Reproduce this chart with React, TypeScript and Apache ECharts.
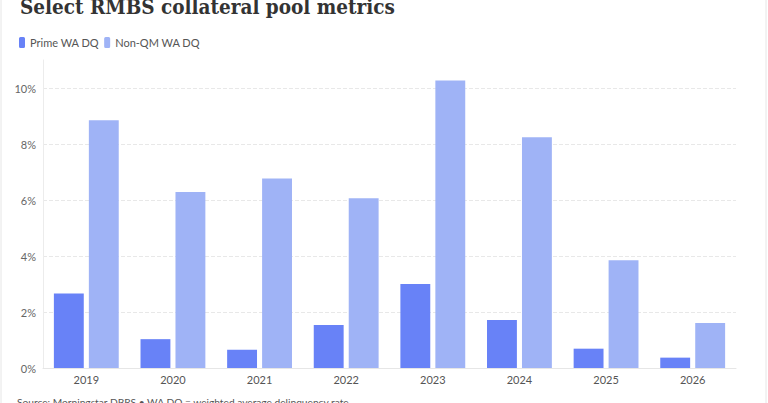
import React, { useEffect, useRef } from "react";
import * as echarts from "echarts";

const years = ["2019", "2020", "2021", "2022", "2023", "2024", "2025", "2026"];
const primeWaDq = [2.66, 1.03, 0.65, 1.54, 3.0, 1.71, 0.69, 0.37];
const nonQmWaDq = [8.85, 6.29, 6.77, 6.06, 10.27, 8.24, 3.85, 1.61];

const PRIME_COLOR = "#6882f7";
const NONQM_COLOR = "#9fb3f6";
const FONT = "Lato, 'Open Sans', sans-serif";

const App = () => {
    const chartRef = useRef(null);

    useEffect(() => {
        if (!chartRef.current) return;
        const chart = echarts.init(chartRef.current, null, { renderer: "svg" });

        const option = {
            animation: false,
            backgroundColor: "#ffffff",
            title: {
                text: "Select RMBS collateral pool metrics",
                left: 15,
                top: -9,
                textStyle: {
                    fontFamily: "'DejaVu Serif Condensed', 'DejaVu Serif', serif",
                    fontWeight: "bold",
                    fontSize: 20.5,
                    color: "#333333",
                },
            },
            legend: {
                left: 14,
                top: 32,
                icon: "roundRect",
                itemWidth: 6,
                itemHeight: 11,
                itemGap: 5,
                textStyle: { fontFamily: FONT, fontSize: 11, color: "#555555" },
                data: ["Prime WA DQ", "Non-QM WA DQ"],
            },
            grid: { left: 43, right: 32, top: 60, bottom: 35 },
            xAxis: {
                type: "category",
                data: years,
                axisTick: { show: false },
                axisLine: { lineStyle: { color: "#e6e6e6" } },
                axisLabel: {
                    fontFamily: FONT,
                    fontSize: 11,
                    color: "#555555",
                    margin: 6,
                },
            },
            yAxis: {
                type: "value",
                min: 0,
                max: 11,
                interval: 2,
                axisLine: { show: true, lineStyle: { color: "#ececec" } },
                axisTick: { show: false },
                axisLabel: {
                    formatter: "{value}%",
                    fontFamily: FONT,
                    fontSize: 11,
                    color: "#666666",
                    margin: 7,
                    showMaxLabel: false,
                },
                splitLine: {
                    showMaxLine: false,
                    lineStyle: { color: "#e8e8e8", type: "dashed" },
                },
            },
            graphic: [
                {
                    type: "rect",
                    shape: { x: 1, y: -10, width: 765, height: 430 },
                    style: { fill: "none", stroke: "#e6e6e6", lineWidth: 1 },
                    silent: true,
                },
                {
                    type: "text",
                    left: 17,
                    top: 397,
                    style: {
                        text: "Source: Morningstar DBRS • WA DQ = weighted average delinquency rate",
                        fontFamily: FONT,
                        fontSize: 10.2,
                        fill: "#555555",
                    },
                },
            ],
            series: [
                {
                    name: "Prime WA DQ",
                    type: "bar",
                    data: primeWaDq,
                    itemStyle: { color: PRIME_COLOR },
                    barWidth: "34.5%",
                    barGap: "17%",
                },
                {
                    name: "Non-QM WA DQ",
                    type: "bar",
                    data: nonQmWaDq,
                    itemStyle: { color: NONQM_COLOR },
                    barWidth: "34.5%",
                    barGap: "17%",
                },
            ],
        };

        chart.setOption(option);
        return () => chart.dispose();
    }, []);

    return (
        <div
            ref={chartRef}
            style={{ position: "absolute", left: 0, top: 0, width: "768px", height: "403px" }}
        />
    );
};

export default App;
